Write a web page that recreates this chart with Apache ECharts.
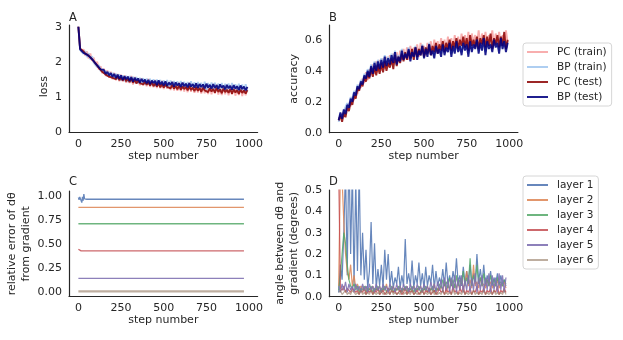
<!DOCTYPE html>
<html><head><meta charset="utf-8">
<script src="https://cdn.jsdelivr.net/npm/echarts@6/dist/echarts.min.js"></script>
<style>html,body{margin:0;padding:0;background:#fff}#c{width:623px;height:340px}</style>
</head><body><div id="c"></div>
<script>
// ---------- tick labels ----------
const xTicks = [0, 250, 500, 750, 1000];
const lossTicks = [0, 1, 2, 3];
const accTicks = [0, 0.2, 0.4, 0.6];
const errTicks = [0, 0.25, 0.5, 0.75, 1];
const angTicks = [0, 0.1, 0.2, 0.3, 0.4, 0.5];
const trainNames = ['PC (train)', 'BP (train)', 'PC (test)', 'BP (test)'];
const layerNames = ['layer 1', 'layer 2', 'layer 3', 'layer 4', 'layer 5', 'layer 6'];
const sampleEvery = 10; // values below are read every 10 steps

// ---------- A: loss ----------
const lossPCtrain = [3.00,2.40,2.28,2.36,2.18,2.30,2.10,2.24,2.03,2.12,1.92,2.01,1.78,1.88,1.68,1.81,1.60,1.76,1.55,1.72,1.51,1.69,1.48,1.66,1.45,1.64,1.44,1.62,1.41,1.59,1.40,1.60,1.36,1.57,1.38,1.53,1.34,1.54,1.33,1.50,1.31,1.52,1.29,1.48,1.28,1.49,1.26,1.46,1.25,1.47,1.23,1.45,1.24,1.43,1.20,1.44,1.19,1.41,1.18,1.42,1.17,1.40,1.16,1.39,1.14,1.41,1.15,1.37,1.12,1.38,1.13,1.36,1.10,1.37,1.11,1.34,1.09,1.35,1.08,1.33,1.10,1.36,1.07,1.32,1.06,1.34,1.08,1.31,1.05,1.33,1.07,1.32,1.04,1.30,1.06,1.32,1.03,1.29,1.05,1.28];
const lossBPtrain = [3.00,2.34,2.39,2.23,2.31,2.14,2.25,2.07,2.16,1.97,2.02,1.85,1.91,1.74,1.80,1.67,1.75,1.59,1.72,1.57,1.69,1.52,1.66,1.50,1.65,1.47,1.62,1.45,1.61,1.43,1.60,1.42,1.58,1.40,1.57,1.39,1.55,1.37,1.54,1.36,1.53,1.35,1.52,1.34,1.51,1.31,1.50,1.32,1.49,1.30,1.48,1.29,1.49,1.27,1.47,1.28,1.46,1.26,1.45,1.25,1.46,1.24,1.44,1.25,1.43,1.23,1.45,1.22,1.42,1.24,1.43,1.21,1.41,1.22,1.44,1.20,1.40,1.21,1.42,1.19,1.41,1.20,1.39,1.18,1.40,1.19,1.38,1.17,1.39,1.18,1.40,1.17,1.37,1.16,1.38,1.18,1.36,1.15,1.37,1.16];
const lossPCtest = [3.00,2.38,2.35,2.30,2.24,2.27,2.18,2.20,2.08,2.05,1.96,1.93,1.83,1.81,1.72,1.74,1.64,1.69,1.58,1.63,1.55,1.60,1.51,1.59,1.48,1.55,1.47,1.56,1.45,1.52,1.43,1.53,1.41,1.50,1.39,1.47,1.40,1.45,1.36,1.44,1.35,1.42,1.33,1.43,1.31,1.39,1.30,1.40,1.28,1.37,1.27,1.36,1.29,1.33,1.25,1.35,1.24,1.32,1.22,1.33,1.21,1.30,1.23,1.29,1.19,1.31,1.20,1.27,1.17,1.28,1.18,1.26,1.15,1.27,1.19,1.24,1.14,1.25,1.16,1.23,1.13,1.26,1.15,1.22,1.11,1.24,1.14,1.21,1.12,1.23,1.10,1.22,1.13,1.20,1.09,1.21,1.12,1.19,1.10,1.20];
const lossBPtest = [3.00,2.36,2.33,2.26,2.31,2.21,2.25,2.13,2.11,2.02,1.98,1.90,1.86,1.79,1.75,1.77,1.66,1.72,1.62,1.68,1.58,1.66,1.54,1.64,1.52,1.62,1.49,1.59,1.51,1.58,1.46,1.57,1.44,1.55,1.47,1.53,1.41,1.52,1.43,1.50,1.39,1.49,1.37,1.47,1.40,1.46,1.34,1.48,1.36,1.44,1.33,1.45,1.32,1.41,1.35,1.43,1.30,1.42,1.33,1.39,1.29,1.41,1.31,1.38,1.28,1.40,1.30,1.37,1.27,1.39,1.26,1.37,1.29,1.36,1.25,1.38,1.27,1.35,1.24,1.37,1.26,1.34,1.23,1.36,1.27,1.33,1.22,1.35,1.25,1.32,1.21,1.34,1.24,1.31,1.20,1.33,1.23,1.30,1.19,1.29];

// ---------- B: accuracy ----------
const accPCtrain = [0.09,0.10,0.12,0.11,0.15,0.14,0.19,0.17,0.23,0.21,0.27,0.25,0.31,0.29,0.35,0.32,0.39,0.34,0.41,0.37,0.44,0.38,0.46,0.39,0.47,0.40,0.48,0.41,0.49,0.43,0.50,0.44,0.51,0.45,0.52,0.46,0.53,0.47,0.54,0.48,0.55,0.47,0.56,0.49,0.55,0.50,0.57,0.49,0.58,0.51,0.56,0.50,0.58,0.52,0.59,0.51,0.60,0.53,0.59,0.52,0.61,0.54,0.60,0.53,0.62,0.55,0.61,0.54,0.63,0.56,0.62,0.55,0.64,0.57,0.63,0.56,0.65,0.55,0.64,0.58,0.63,0.57,0.66,0.56,0.64,0.58,0.65,0.57,0.63,0.59,0.66,0.56,0.64,0.58,0.65,0.57,0.63,0.59,0.66,0.58];
const accBPtrain = [0.07,0.12,0.10,0.14,0.13,0.19,0.17,0.23,0.21,0.27,0.25,0.31,0.29,0.34,0.32,0.38,0.36,0.41,0.38,0.44,0.40,0.46,0.41,0.47,0.43,0.48,0.44,0.50,0.45,0.49,0.46,0.51,0.47,0.53,0.46,0.50,0.48,0.54,0.49,0.52,0.50,0.55,0.48,0.53,0.51,0.56,0.49,0.54,0.52,0.57,0.50,0.55,0.51,0.58,0.52,0.54,0.50,0.57,0.53,0.55,0.51,0.58,0.52,0.56,0.54,0.59,0.51,0.57,0.53,0.60,0.54,0.57,0.52,0.59,0.55,0.58,0.51,0.60,0.54,0.58,0.56,0.61,0.53,0.59,0.55,0.62,0.52,0.60,0.56,0.58,0.54,0.61,0.57,0.59,0.53,0.62,0.56,0.60,0.54,0.59];
const accPCtest = [0.08,0.11,0.07,0.13,0.10,0.16,0.14,0.20,0.18,0.24,0.22,0.29,0.27,0.32,0.30,0.36,0.33,0.39,0.35,0.42,0.36,0.43,0.37,0.44,0.38,0.45,0.39,0.46,0.40,0.45,0.42,0.48,0.41,0.50,0.43,0.49,0.45,0.51,0.46,0.52,0.47,0.53,0.48,0.54,0.47,0.55,0.49,0.54,0.50,0.56,0.49,0.55,0.51,0.57,0.50,0.56,0.52,0.58,0.51,0.57,0.53,0.59,0.52,0.58,0.54,0.60,0.53,0.59,0.55,0.61,0.54,0.60,0.56,0.62,0.55,0.61,0.53,0.63,0.56,0.60,0.55,0.62,0.54,0.61,0.57,0.63,0.55,0.62,0.56,0.64,0.54,0.61,0.57,0.63,0.55,0.62,0.56,0.65,0.54,0.60];
const accBPtest = [0.08,0.13,0.09,0.15,0.12,0.18,0.16,0.22,0.20,0.26,0.24,0.30,0.28,0.33,0.31,0.37,0.35,0.40,0.36,0.43,0.38,0.45,0.40,0.46,0.41,0.47,0.42,0.49,0.43,0.48,0.44,0.50,0.45,0.52,0.44,0.49,0.46,0.53,0.47,0.51,0.48,0.54,0.46,0.52,0.49,0.55,0.47,0.53,0.50,0.56,0.48,0.54,0.49,0.57,0.50,0.53,0.48,0.56,0.51,0.54,0.49,0.57,0.50,0.55,0.52,0.58,0.49,0.56,0.51,0.59,0.52,0.56,0.50,0.58,0.53,0.57,0.49,0.59,0.52,0.57,0.54,0.60,0.51,0.58,0.53,0.61,0.50,0.59,0.54,0.57,0.52,0.60,0.55,0.58,0.51,0.61,0.54,0.59,0.52,0.58];

// ---------- C: relative error (steps listed explicitly) ----------
const errSteps = [0, 4, 8, 12, 16, 20, 24, 28, 32, 36, 40, 50, 970];
const errL1 = [0.985,0.96,0.99,0.97,0.995,0.93,0.99,0.95,1.02,0.97,0.965,0.965,0.965];
const errL2 = [0.88,0.88,0.88,0.88,0.88,0.88,0.88,0.88,0.88,0.88,0.88,0.88,0.88];
const errL3 = [0.71,0.71,0.71,0.71,0.71,0.71,0.71,0.71,0.71,0.71,0.71,0.71,0.71];
const errL4 = [0.445,0.43,0.427,0.427,0.427,0.427,0.427,0.427,0.427,0.427,0.427,0.427,0.427];
const errL5 = [0.14,0.14,0.14,0.14,0.14,0.14,0.14,0.14,0.14,0.14,0.14,0.14,0.14];
const errL6 = [0.005,0.005,0.005,0.005,0.005,0.005,0.005,0.005,0.005,0.005,0.005,0.005,0.005];

// ---------- D: angle (every 10 steps) ----------
const angL1 = [0.02,0.15,0.08,0.30,0.60,0.10,0.70,0.20,0.60,0.05,0.55,0.12,0.60,0.10,0.30,0.08,0.22,0.04,0.12,0.35,0.06,0.25,0.04,0.13,0.05,0.15,0.04,0.22,0.08,0.20,0.05,0.12,0.04,0.09,0.06,0.14,0.04,0.10,0.05,0.27,0.06,0.11,0.05,0.17,0.04,0.10,0.06,0.16,0.05,0.11,0.04,0.14,0.05,0.10,0.06,0.15,0.04,0.12,0.05,0.09,0.06,0.13,0.05,0.16,0.06,0.10,0.05,0.12,0.07,0.18,0.06,0.10,0.05,0.14,0.06,0.12,0.07,0.15,0.05,0.11,0.06,0.20,0.07,0.13,0.06,0.15,0.05,0.10,0.06,0.12,0.05,0.09,0.06,0.11,0.05,0.10,0.06,0.08,0.05];
const angL2 = [0.05,0.60,0.55,0.35,0.20,0.12,0.08,0.15,0.05,0.10,0.04,0.06,0.03,0.05,0.04,0.03,0.05,0.02,0.04,0.03,0.05,0.02,0.04,0.03,0.05,0.02,0.04,0.03,0.06,0.02,0.04,0.03,0.05,0.02,0.04,0.03,0.05,0.02,0.04,0.03,0.05,0.02,0.04,0.03,0.05,0.02,0.04,0.03,0.05,0.02,0.04,0.03,0.05,0.02,0.04,0.03,0.06,0.02,0.04,0.03,0.05,0.03,0.07,0.02,0.05,0.04,0.08,0.03,0.06,0.04,0.07,0.03,0.09,0.04,0.06,0.12,0.05,0.08,0.04,0.15,0.05,0.07,0.04,0.09,0.05,0.06,0.04,0.08,0.05,0.07,0.04,0.06,0.05,0.08,0.04,0.06,0.05,0.07,0.04];
const angL3 = [0.03,0.10,0.20,0.30,0.25,0.15,0.08,0.05,0.04,0.06,0.03,0.05,0.02,0.04,0.03,0.05,0.02,0.04,0.03,0.05,0.02,0.04,0.03,0.05,0.02,0.04,0.03,0.05,0.02,0.04,0.03,0.05,0.02,0.04,0.03,0.05,0.02,0.04,0.03,0.05,0.02,0.04,0.03,0.05,0.02,0.04,0.03,0.05,0.02,0.04,0.03,0.05,0.02,0.04,0.03,0.05,0.02,0.04,0.03,0.06,0.04,0.08,0.05,0.07,0.04,0.09,0.05,0.08,0.04,0.10,0.05,0.08,0.06,0.12,0.05,0.09,0.06,0.18,0.05,0.10,0.07,0.15,0.06,0.09,0.05,0.11,0.06,0.08,0.05,0.10,0.06,0.08,0.05,0.09,0.06,0.07,0.05,0.08,0.06];
const angL4 = [0.60,0.04,0.03,0.05,0.02,0.04,0.03,0.02,0.04,0.03,0.02,0.03,0.01,0.03,0.02,0.04,0.01,0.03,0.02,0.03,0.01,0.03,0.02,0.04,0.01,0.02,0.03,0.01,0.02,0.04,0.01,0.03,0.02,0.03,0.01,0.02,0.03,0.01,0.02,0.04,0.01,0.03,0.02,0.03,0.01,0.02,0.03,0.01,0.02,0.03,0.01,0.03,0.02,0.04,0.01,0.02,0.03,0.01,0.02,0.04,0.02,0.03,0.01,0.04,0.02,0.03,0.01,0.05,0.02,0.03,0.01,0.04,0.02,0.05,0.01,0.03,0.02,0.04,0.01,0.03,0.02,0.05,0.01,0.03,0.02,0.04,0.01,0.03,0.02,0.04,0.01,0.03,0.02,0.05,0.01,0.03,0.02,0.04,0.02];
const angL5 = [0.05,0.02,0.06,0.03,0.07,0.02,0.06,0.03,0.05,0.02,0.06,0.03,0.05,0.02,0.06,0.03,0.05,0.02,0.06,0.03,0.05,0.02,0.06,0.03,0.05,0.02,0.06,0.03,0.05,0.02,0.06,0.03,0.05,0.02,0.06,0.03,0.05,0.02,0.06,0.03,0.05,0.02,0.06,0.03,0.05,0.02,0.06,0.03,0.05,0.02,0.06,0.03,0.05,0.02,0.07,0.03,0.06,0.02,0.07,0.03,0.08,0.02,0.09,0.03,0.08,0.02,0.09,0.03,0.10,0.02,0.09,0.03,0.10,0.02,0.08,0.03,0.10,0.02,0.09,0.03,0.11,0.02,0.09,0.03,0.10,0.02,0.09,0.03,0.11,0.02,0.10,0.03,0.09,0.02,0.11,0.03,0.10,0.02,0.09];
const angL6 = [0.02,0.03,0.01,0.02,0.03,0.01,0.02,0.01,0.03,0.02,0.01,0.02,0.01,0.03,0.01,0.02,0.01,0.02,0.01,0.03,0.01,0.02,0.01,0.02,0.01,0.03,0.01,0.02,0.01,0.02,0.01,0.03,0.01,0.02,0.01,0.02,0.01,0.03,0.01,0.02,0.01,0.02,0.01,0.03,0.01,0.02,0.01,0.02,0.01,0.03,0.01,0.02,0.01,0.02,0.01,0.03,0.01,0.02,0.01,0.02,0.01,0.03,0.01,0.02,0.01,0.02,0.01,0.03,0.01,0.02,0.01,0.02,0.01,0.03,0.01,0.02,0.01,0.02,0.01,0.03,0.01,0.02,0.01,0.02,0.01,0.03,0.01,0.02,0.01,0.02,0.01,0.03,0.01,0.02,0.01,0.02,0.01,0.03,0.01];

// ---------- styles ----------
const FONT = 'DejaVu Sans';
const TXT = '#262626';
const trainColors = ['rgba(245,140,140,0.7)', 'rgba(140,185,235,0.7)', 'rgba(139,0,0,0.85)', 'rgba(0,0,128,0.88)'];
const layerColors = ['rgba(76,114,176,0.85)', 'rgba(221,132,82,0.85)', 'rgba(85,168,104,0.85)', 'rgba(196,78,82,0.85)', 'rgba(129,114,179,0.9)', 'rgba(147,120,96,0.6)'];

const pairs = (vals) => vals.map((v, i) => [i * sampleEvery, v]);
const pairsWith = (steps, vals) => vals.map((v, i) => [steps[i], v]);

const grids = [
  { left: 69, top: 25, width: 188.6, height: 107.3 },
  { left: 329.3, top: 25, width: 188.6, height: 107.7 },
  { left: 69, top: 191.1, width: 188.6, height: 105.4 },
  { left: 329.3, top: 190, width: 188.6, height: 106.7 }
];

function xAx(i) {
  return {
    type: 'value', gridIndex: i, min: -55, max: 1050,
    name: 'step number', nameLocation: 'middle', nameGap: 18,
    nameTextStyle: { fontFamily: FONT, fontSize: 11, color: TXT },
    axisLine: { show: true, onZero: false, lineStyle: { color: TXT, width: 1.2 } },
    axisTick: { show: false },
    splitLine: { show: false },
    axisLabel: { customValues: xTicks, margin: 6, fontFamily: FONT, fontSize: 11, color: TXT,
      formatter: (v) => String(v) }
  };
}
function yAx(i, min, max, ticks, name, gap, digits, pad) {
  return {
    type: 'value', gridIndex: i, min: min, max: max,
    name: name, nameLocation: 'middle', nameGap: gap, nameRotate: 90,
    nameTextStyle: { fontFamily: FONT, fontSize: 11, color: TXT, lineHeight: 14, padding: pad || 0 },
    axisLine: { show: true, onZero: false, lineStyle: { color: TXT, width: 1.2 } },
    axisTick: { show: false },
    splitLine: { show: false },
    axisLabel: { customValues: ticks, margin: 7, fontFamily: FONT, fontSize: 11, color: TXT,
      formatter: (v) => v.toFixed(digits) }
  };
}

const series = [];
const lossSets = [lossPCtrain, lossBPtrain, lossPCtest, lossBPtest];
const accSets = [accPCtrain, accBPtrain, accPCtest, accBPtest];
lossSets.forEach((d, k) => series.push({ name: trainNames[k], type: 'line', xAxisIndex: 0, yAxisIndex: 0,
  data: pairs(d), showSymbol: false, symbol: 'none', color: trainColors[k], lineStyle: { width: 1.9, color: trainColors[k] } }));
accSets.forEach((d, k) => series.push({ name: trainNames[k], type: 'line', xAxisIndex: 1, yAxisIndex: 1,
  data: pairs(d), showSymbol: false, symbol: 'none', color: trainColors[k], lineStyle: { width: 1.9, color: trainColors[k] } }));
const errSets = [errL1, errL2, errL3, errL4, errL5, errL6];
const angSets = [angL1, angL2, angL3, angL4, angL5, angL6];
errSets.forEach((d, k) => series.push({ name: layerNames[k], type: 'line', xAxisIndex: 2, yAxisIndex: 2,
  data: pairsWith(errSteps, d), showSymbol: false, symbol: 'none', color: layerColors[k],
  lineStyle: { width: k === 5 ? 2.2 : 1.3, color: layerColors[k] } }));
angSets.forEach((d, k) => series.push({ name: layerNames[k], type: 'line', xAxisIndex: 3, yAxisIndex: 3,
  data: pairs(d), showSymbol: false, symbol: 'none', color: layerColors[k], clip: true,
  lineStyle: { width: 1.2, color: layerColors[k] } }));

const legendBase = {
  orient: 'vertical', icon: 'rect', itemWidth: 21, itemHeight: 2, itemGap: 3,
  padding: [3, 5, 3, 4], borderColor: '#d6d6d6', borderWidth: 1, borderRadius: 3,
  backgroundColor: '#fff',
  textStyle: { fontFamily: FONT, fontSize: 10.5, color: TXT, lineHeight: 12, padding: [0, 0, 0, 4] }
};

const option = {
  animation: false,
  backgroundColor: '#fff',
  title: [
    { text: 'A', left: 69, top: 12 },
    { text: 'B', left: 329, top: 12 },
    { text: 'C', left: 69, top: 176 },
    { text: 'D', left: 329, top: 176 }
  ].map(t => Object.assign(t, { padding: 0, textStyle: { fontFamily: FONT, fontSize: 11.5, fontWeight: 'normal', color: TXT } })),
  grid: grids,
  xAxis: [xAx(0), xAx(1), xAx(2), xAx(3)],
  yAxis: [
    yAx(0, 0, 3.05, lossTicks, 'loss', 15, 0, [0, 16, 0, 0]),
    yAx(1, 0, 0.695, accTicks, 'accuracy', 26, 1),
    yAx(2, -0.048, 1.05, errTicks, 'relative error of dθ\nfrom gradient', 34, 2),
    yAx(3, 0, 0.5, angTicks, 'angle between dθ and\ngradient (degrees)', 26, 1)
  ],
  legend: [
    Object.assign({}, legendBase, { left: 523, top: 43, data: trainNames }),
    Object.assign({}, legendBase, { left: 523, top: 176, data: layerNames })
  ],
  series: series
};

const chart = echarts.init(document.getElementById('c'), null, { renderer: 'canvas' });
chart.setOption(option);
</script>
</body></html>
